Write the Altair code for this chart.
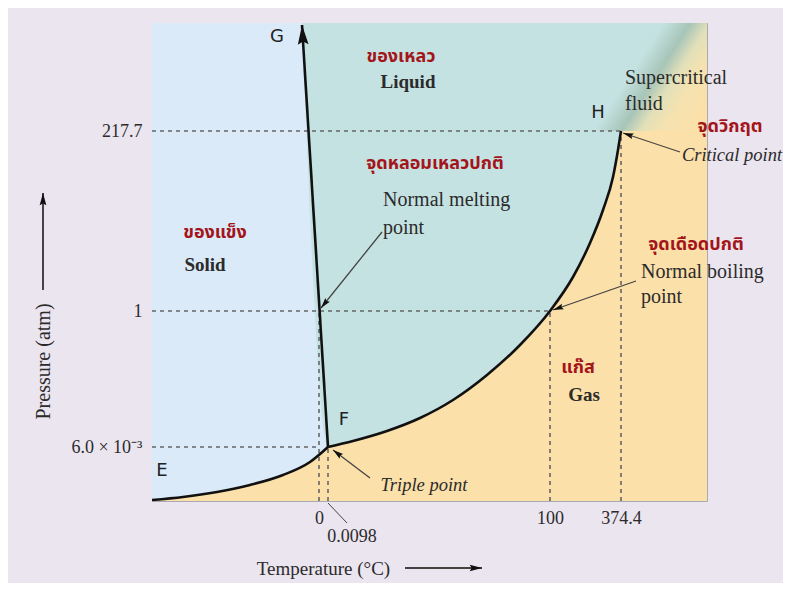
import math
import altair as alt
import pandas as pd

# Plot-area coordinate system of the schematic (units ~ px of the diagram)
X_MAX, Y_MAX = 555, 478

# ---------------- data ----------------
# Sublimation curve E -> F (triple point)
sub_x = [0, 31, 65, 98, 131, 158, 176]
sub_y = [1, 4, 9, 16, 26, 39, 54]
# Vaporization curve F -> H (critical point)
vap_x = [176, 201, 235, 268, 301, 335, 368, 398, 421, 438, 451, 461, 466, 469]
vap_y = [54, 60, 70, 83, 101, 126, 156, 190, 224, 258, 291, 324, 351, 370]
# Melting curve F -> G
melt_x = [176, 150]
melt_y = [54, 476]

# Axis ticks (schematic positions) and their labels
p_ticks = [54, 190, 370]
p_labels = ["6.0 × 10⁻³", "1", "217.7"]
t_ticks = [167, 398, 469]
t_labels = ["0", "100", "374.4"]

# Dashed guide lines
dash_x1 = [0, 0, 0, 167, 176, 398, 469]
dash_x2 = [168, 398, 469, 167, 176, 398, 469]
dash_y1 = [54, 190, 370, 0, 0, 0, 0]
dash_y2 = [54, 190, 370, 190, 54, 190, 370]

# Leader lines (start -> end) and whether they end in an arrowhead
lead_x1 = [230, 484, 528, 218, 176, -109, 253]
lead_y1 = [269, 220, 349, 23, -2, 211, -67]
lead_x2 = [169, 401, 471, 181, 195, -109, 330]
lead_y2 = [193, 191, 368, 51, -22, 308, -67]
lead_arrow = [True, True, True, True, False, True, True]
lead_width = [1.3, 1.3, 1.3, 1.3, 1.0, 2.0, 2.0]

# Labels
thai_text = ["ของเหลว", "จุดวิกฤต", "จุดหลอมเหลวปกติ", "ของแข็ง", "จุดเดือดปกติ", "แก๊ส"]
thai_x = [249, 578, 283, 63, 544, 426]
thai_y = [444, 374, 337, 268, 256, 133]

bold_text = ["Liquid", "Solid", "Gas"]
bold_x = [256, 53, 432]
bold_y = [419, 236, 106]

reg_text = ["Supercritical", "fluid", "Normal melting", "point", "Normal boiling", "point"]
reg_x = [473, 473, 231, 231, 489, 489]
reg_y = [423, 397, 301, 273, 229, 204]

ital_text = ["Critical point", "Triple point"]
ital_x = [580, 272]
ital_y = [346, 16]

letter_text = ["G", "H", "F", "E"]
letter_x = [125, 446, 192, 10]
letter_y = [464, 388, 81, 30]

small_text = ["0.0098"]
small_x = [200]
small_y = [-36]

# ---------------- styles ----------------
SERIF = "Liberation Serif"
THAI = "Noto Sans Thai, Noto Sans, DejaVu Sans, sans-serif"
TXT = "#2b2b2b"
RED = "#a3151b"
SOLID_C = "#dbeaf8"
LIQ_C = "#c5e2e2"
GAS_C = "#fbe0aa"
ARROW = "M0,0L-0.55,2L0,1.7L0.55,2Z"

xscale = alt.Scale(domain=[0, X_MAX], nice=False, zero=False)
yscale = alt.Scale(domain=[0, Y_MAX], nice=False, zero=False)


def lbl_expr(vals, labels):
    parts = [f"datum.value == {v} ? '{l}'" for v, l in zip(vals, labels)]
    return " : ".join(parts) + " : ''"


xaxis = alt.Axis(values=t_ticks, labelExpr=lbl_expr(t_ticks, t_labels), title="Temperature (°C)",
                 ticks=False, domain=False, grid=False, labelFont=SERIF, labelFontSize=18,
                 labelColor=TXT, labelPadding=8, titleFont=SERIF, titleFontSize=19,
                 titleFontWeight="normal", titleColor=TXT, titleX=171, titleY=67,
                 titleAlign="center", titleBaseline="middle")
yaxis = alt.Axis(values=p_ticks, labelExpr=lbl_expr(p_ticks, p_labels), title="Pressure (atm)",
                 ticks=False, domain=False, grid=False, labelFont=SERIF, labelFontSize=18,
                 labelColor=TXT, labelPadding=10, titleFont=SERIF, titleFontSize=20,
                 titleFontWeight="normal", titleColor=TXT, titleAngle=270, titleX=-109,
                 titleY=338, titleAlign="center", titleBaseline="middle")


def X(f="x"):
    return alt.X(f"{f}:Q", scale=xscale, axis=xaxis)


def Y(f="y"):
    return alt.Y(f"{f}:Q", scale=yscale, axis=yaxis)


# ---------------- tables ----------------
box = pd.DataFrame({"x": [0], "x2": [X_MAX], "y": [0], "y2": [Y_MAX]})
superc = pd.DataFrame({"x": [445], "x2": [X_MAX], "y": [vap_y[-1]], "y2": [Y_MAX]})
solid = pd.DataFrame({"x": sub_x, "y": sub_y, "y2": [Y_MAX] * len(sub_x)})
liq = pd.DataFrame({"x": [melt_x[-1]] + vap_x, "y": [melt_y[-1]] + vap_y,
                    "y2": [Y_MAX] * (len(vap_x) + 1)})

rows = []
for seg, xs, ys in [("sub", sub_x, sub_y), ("vap", vap_x, vap_y), ("melt", melt_x, melt_y)]:
    for i, (a, b) in enumerate(zip(xs, ys)):
        rows.append({"seg": seg, "o": i, "x": a, "y": b})
curves = pd.DataFrame(rows)

dashes = pd.DataFrame({"x": dash_x1, "x2": dash_x2, "y": dash_y1, "y2": dash_y2})
leads = pd.DataFrame({"x": lead_x1, "y": lead_y1, "x2": lead_x2, "y2": lead_y2, "w": lead_width})


def ang(x1, y1, x2, y2):
    return math.degrees(math.atan2(x2 - x1, y2 - y1)) % 360


heads = []
for x1, y1, x2, y2, a, w in zip(lead_x1, lead_y1, lead_x2, lead_y2, lead_arrow, lead_width):
    if a:
        heads.append({"x": x2, "y": y2, "angle": ang(x1, y1, x2, y2), "size": 110 if w < 1.5 else 150})
heads.append({"x": melt_x[-1], "y": melt_y[-1],
              "angle": ang(melt_x[0], melt_y[0], melt_x[-1], melt_y[-1]), "size": 380})
heads = pd.DataFrame(heads)


def tdf(t, x, y):
    return pd.DataFrame({"t": t, "x": x, "y": y})


# ---------------- layers ----------------
gas = alt.Chart(box).mark_rect(fill=GAS_C).encode(x=X(), x2="x2", y=Y(), y2="y2")
solid_l = alt.Chart(solid).mark_area(fill=SOLID_C, interpolate="monotone").encode(x=X(), y=Y(), y2="y2")
liq_l = alt.Chart(liq).mark_area(fill=LIQ_C, interpolate="monotone").encode(x=X(), y=Y(), y2="y2")
grad = alt.Gradient(gradient="linear", x1=-0.1, y1=0.1, x2=1.17, y2=0.9, stops=[
    alt.GradientStop(offset=0, color=LIQ_C),
    alt.GradientStop(offset=0.36, color=LIQ_C),
    alt.GradientStop(offset=0.5, color="#a7c5b8"),
    alt.GradientStop(offset=0.6, color="#e2e0b9"),
    alt.GradientStop(offset=0.7, color="#f4e2b0"),
    alt.GradientStop(offset=0.85, color=GAS_C),
    alt.GradientStop(offset=1, color=GAS_C)])
sc = alt.Chart(superc).mark_rect(fill=grad).encode(x=X(), x2="x2", y=Y(), y2="y2")

dash_l = alt.Chart(dashes).mark_rule(color="#666666", strokeWidth=1.6, strokeDash=[4, 4]).encode(
    x=X(), x2="x2", y=Y(), y2="y2")
curve_l = alt.Chart(curves).mark_line(color="#111111", strokeWidth=2.6, interpolate="monotone").encode(
    x=X(), y=Y(), detail="seg:N", order="o:Q")
lead_l = alt.Chart(leads).mark_rule(color="#444444").encode(
    x=X(), x2="x2", y=Y(), y2="y2", strokeWidth=alt.StrokeWidth("w:Q", scale=None, legend=None))
head_l = alt.Chart(heads).mark_point(shape=ARROW, filled=True, color="#111111", opacity=1).encode(
    x=X(), y=Y(), angle=alt.Angle("angle:Q", scale=None),
    size=alt.Size("size:Q", scale=None, legend=None))

thai_l = alt.Chart(tdf(thai_text, thai_x, thai_y)).mark_text(
    font=THAI, fontSize=18, fontWeight="bold", color=RED, align="center", baseline="middle").encode(
    x=X(), y=Y(), text="t:N")
bold_l = alt.Chart(tdf(bold_text, bold_x, bold_y)).mark_text(
    font=SERIF, fontSize=19, fontWeight="bold", color=TXT, align="center", baseline="middle").encode(
    x=X(), y=Y(), text="t:N")
reg_l = alt.Chart(tdf(reg_text, reg_x, reg_y)).mark_text(
    font=SERIF, fontSize=20, color=TXT, align="left", baseline="middle").encode(
    x=X(), y=Y(), text="t:N")
ital_l = alt.Chart(tdf(ital_text, ital_x, ital_y)).mark_text(
    font=SERIF, fontSize=18.5, fontStyle="italic", color=TXT, align="center", baseline="middle").encode(
    x=X(), y=Y(), text="t:N")
letter_l = alt.Chart(tdf(letter_text, letter_x, letter_y)).mark_text(
    font="DejaVu Sans", fontSize=18, color="#222222", align="center", baseline="middle").encode(
    x=X(), y=Y(), text="t:N")
small_l = alt.Chart(tdf(small_text, small_x, small_y)).mark_text(
    font=SERIF, fontSize=18, color=TXT, align="center", baseline="middle").encode(
    x=X(), y=Y(), text="t:N")

chart = alt.layer(gas, solid_l, liq_l, sc, dash_l, curve_l, lead_l, head_l,
                  thai_l, bold_l, reg_l, ital_l, letter_l, small_l).properties(
    width=X_MAX, height=Y_MAX,
    padding={"left": 144, "top": 15, "right": 76, "bottom": 82},
    autosize=alt.AutoSizeParams(type="none"),
    background="#ebe5f0",
).configure_view(stroke="#a9a9b2", strokeWidth=1)

chart.save("out.html", embed_options={"renderer": "svg", "actions": False})
